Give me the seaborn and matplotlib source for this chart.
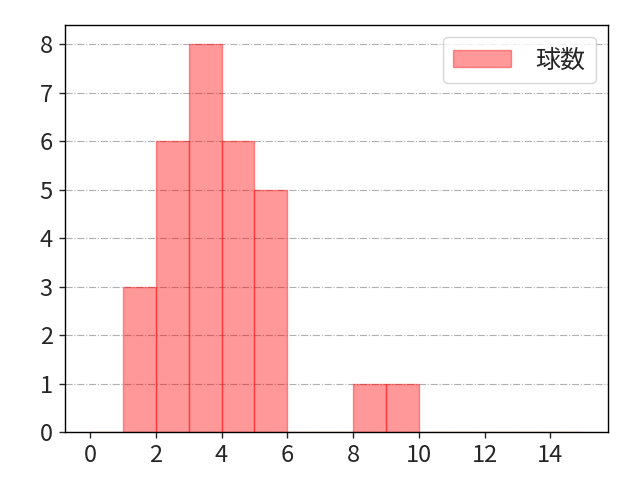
import matplotlib

matplotlib.use("Agg")
import matplotlib.pyplot as plt
import seaborn as sns

# pitch-count bins (left edges) and number of appearances in each
bin_lefts = [1, 2, 3, 4, 5, 8, 9]
counts = [3, 6, 8, 6, 5, 1, 1]
bin_edges = list(range(0, 16))
label = "球数"

sns.set_style("white")
plt.rcParams["font.family"] = ["Noto Sans CJK JP", "DejaVu Sans"]

fig, ax = plt.subplots(figsize=(6.4, 4.8), dpi=100)
sns.histplot(
    x=bin_lefts,
    weights=counts,
    bins=bin_edges,
    color="red",
    alpha=0.4,
    edgecolor="red",
    linewidth=1,
    label=label,
    ax=ax,
)
for p in ax.patches:
    p.set_edgecolor((1, 0, 0, 0.4))

ax.set_xlim(-0.75, 15.75)
ax.set_ylim(0, 8.4)
ax.set_xlabel("")
ax.set_ylabel("")
ax.set_xticks(range(0, 16, 2))
ax.set_yticks(range(0, 9))
ax.tick_params(labelsize=17, length=4, width=1, pad=5, bottom=True, left=True)
ax.yaxis.grid(True, linestyle="-.", color="#b0b0b0", linewidth=0.8)
ax.set_axisbelow(True)
for s in ax.spines.values():
    s.set_color("black")
    s.set_linewidth(1)
ax.legend(loc="upper right", fontsize=18, handlelength=2.3, handletextpad=1.0)

fig.subplots_adjust(left=0.102, right=0.95, top=0.948, bottom=0.1)
plt.savefig("out.png", dpi=100)
plt.close()
